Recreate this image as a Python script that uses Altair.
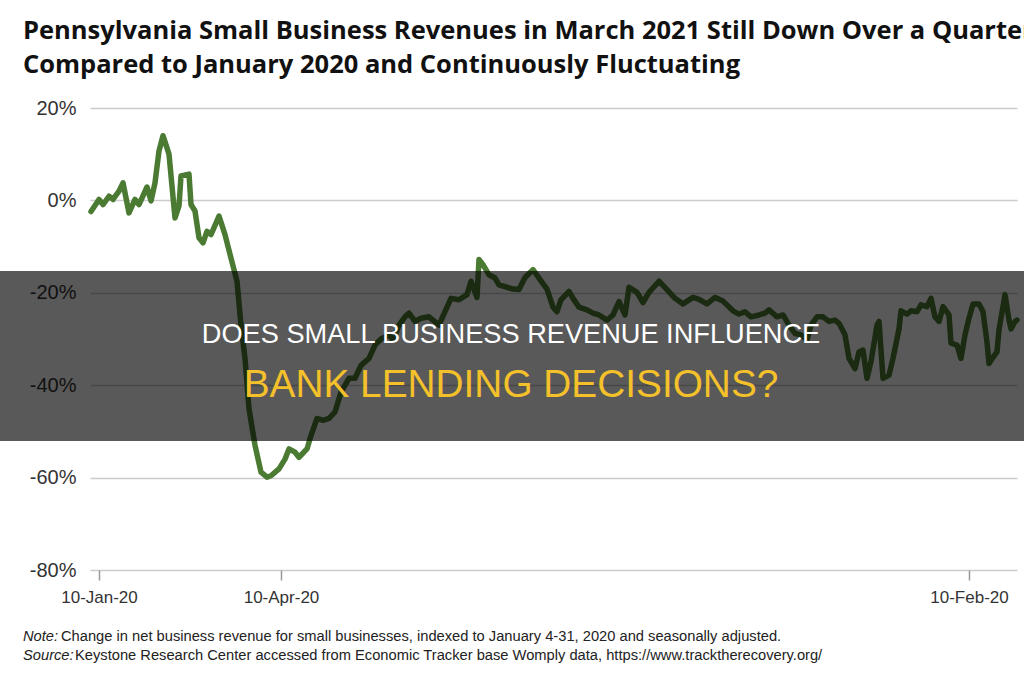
import altair as alt
import pandas as pd

title_lines = [
    "Pennsylvania Small Business Revenues in March 2021 Still Down Over a Quarter",
    "Compared to January 2020 and Continuously Fluctuating",
]
overlay_lines = ["DOES SMALL BUSINESS REVENUE INFLUENCE", "BANK LENDING DECISIONS?"]
note_labels = ["Note:", "Source:"]
note_texts = [
    "Change in net business revenue for small businesses, indexed to January 4-31, 2020 and seasonally adjusted.",
    "Keystone Research Center accessed from Economic Tracker base Womply data, https://www.tracktherecovery.org/",
]

y_ticks = [20, 0, -20, -40, -60, -80]
x_tick_days = [0, 91, 435]
x_tick_labels = ["10-Jan-20", "10-Apr-20", "10-Feb-20"]

# day index (days after 10 Jan 2020 on the chart's axis) and % change in revenue
days = [-4, 0, 2, 5, 7, 10, 12, 15, 18, 20, 24, 26, 28, 30, 32, 35, 38, 40, 41, 45,
        46, 48, 50, 52, 54, 56, 60, 63, 66, 69, 71, 73, 75, 78, 81, 84, 86, 90, 93, 95,
        98, 100, 104, 106, 109, 112, 115, 118, 121, 125, 128, 131, 135, 138, 141, 145, 147, 150, 153, 155,
        158, 161, 165,
        170, 173, 176, 180, 184, 186, 189, 190, 192, 195, 198, 200, 204, 207, 210, 213, 217, 220, 224, 227,
        229, 231, 235, 237, 240, 244, 247, 250, 254, 257, 260, 263, 265, 269, 272, 275, 280, 284, 288, 292,
        297, 300, 304, 308, 312,
        317, 320, 323, 326, 330, 333, 335, 339, 342, 345, 348, 351, 354, 356, 359, 362, 365, 368, 370, 373,
        375, 378, 380, 382, 384, 386, 389, 390, 392, 395, 397, 400, 401, 404, 406, 409, 411, 414, 416, 418,
        420, 422, 425, 426, 429, 431, 433, 435, 437, 440, 442, 444, 445, 447, 449, 450, 453, 455, 456, 458,
        459]
revenue_change = [-2.4, 0.2, -0.9, 0.9, 0.2, 2.0, 3.8, -2.7, 0.2, -0.9, 2.9, -0.1, 3.8, 10.7, 14.0, 10.0, -3.8, -1.2, 5.3, 5.7,
                  -0.9, -2.3, -8.1, -9.2, -6.7, -7.4, -3.4, -7.4, -12.5, -17.5, -27.0, -34.2, -45.1, -53.0, -58.8, -59.9, -59.6, -58.1, -56.0, -53.8,
                  -54.5, -55.6, -53.8, -50.9, -47.2, -47.6, -47.2, -45.8, -41.5, -38.5, -38.5, -35.7, -34.2, -31.3, -30.0, -29.1, -30.2, -27.0, -25.2, -24.4,
                  -26.2, -25.5, -25.2,
                  -27.0, -24.1, -21.2, -21.5, -20.4, -17.5, -21.0, -12.8, -13.9, -16.1, -16.8, -18.3, -18.8, -19.2, -19.3, -16.7, -15.0, -16.8, -19.2, -23.1,
                  -24.1, -21.5, -19.7, -21.2, -23.1, -23.7, -24.4, -24.8, -25.9, -24.8, -21.9, -24.8, -18.8, -19.9, -22.1, -19.9, -17.5, -19.3, -21.2, -22.4,
                  -21.0, -21.4, -22.4, -21.0, -21.8,
                  -23.9, -24.6, -24.1, -25.2, -24.8, -24.4, -23.7, -25.2, -24.8, -27.0, -28.8, -29.1, -30.2, -27.0, -25.2, -25.2, -26.2, -25.9, -26.6, -29.1,
                  -34.2, -36.4, -32.8, -32.4, -38.5, -34.9, -27.0, -26.2, -38.5, -37.8, -34.2, -27.8, -23.9, -24.6, -23.9, -24.1, -22.6, -23.0, -21.2, -25.2,
                  -26.2, -23.0, -24.8, -30.9, -31.3, -34.2, -29.1, -25.5, -22.4, -22.4, -24.1, -30.7, -35.3, -34.0, -32.8, -28.0, -20.4, -25.9, -27.8, -26.2,
                  -25.9]

assert len(days) == len(revenue_change)

PAD_L, PAD_T, PAD_R, PAD_B = 90, 108, 7, 110
W, H = 1024 - PAD_L - PAD_R, 680 - PAD_T - PAD_B

FONT = "Liberation Sans, sans-serif"
df = pd.DataFrame({"day": days, "change": revenue_change})

x_label_expr = " : ".join(
    f"datum.value == {d} ? '{l}'" for d, l in zip(x_tick_days, x_tick_labels)
) + " : ''"

line = alt.Chart(df).mark_line(
    color="#4b7b33", strokeWidth=5.5, strokeJoin="round", strokeCap="round"
).encode(
    x=alt.X("day:Q", scale=alt.Scale(domain=[-4.5, 459], nice=False, zero=False),
            axis=alt.Axis(values=x_tick_days, labelExpr=x_label_expr, grid=False, domain=False,
                          ticks=True, tickSize=10, tickColor="#999999", tickWidth=1.5,
                          labelFont=FONT, labelFontSize=17, labelColor="#333333",
                          labelPadding=9, title=None)),
    y=alt.Y("change:Q", scale=alt.Scale(domain=[-80, 20], nice=False, zero=False),
            axis=alt.Axis(values=y_ticks, labelExpr="datum.value + '%'", grid=True,
                          gridColor="#cccccc", gridWidth=1.5, domain=False, ticks=False,
                          labelPadding=14, labelFont=FONT, labelFontSize=20,
                          labelColor="#333333", title=None)),
)

one = pd.DataFrame({"k": [0]})

band = alt.Chart(one).mark_rect(color="black", opacity=0.65).encode(
    x=alt.value(-PAD_L), x2=alt.value(1024 - PAD_L),
    y=alt.value(271 - PAD_T), y2=alt.value(441 - PAD_T),
)

ov1 = alt.Chart(pd.DataFrame({"t": [overlay_lines[0]]})).mark_text(
    font=FONT, fontSize=27.2, color="#ffffff", align="center", baseline="alphabetic"
).encode(text="t:N", x=alt.value(511 - PAD_L), y=alt.value(343 - PAD_T))

ov2 = alt.Chart(pd.DataFrame({"t": [overlay_lines[1]]})).mark_text(
    font=FONT, fontSize=38.8, color="#f4c12b", align="center", baseline="alphabetic"
).encode(text="t:N", x=alt.value(511 - PAD_L), y=alt.value(397 - PAD_T))

t1 = alt.Chart(pd.DataFrame({"t": [title_lines[0]]})).mark_text(
    font="Open Sans", fontSize=25.5, fontWeight="bold", color="#111111", align="left", baseline="alphabetic"
).encode(text="t:N", x=alt.value(23 - PAD_L), y=alt.value(39 - PAD_T))

t2 = alt.Chart(pd.DataFrame({"t": [title_lines[1]]})).mark_text(
    font="Open Sans", fontSize=25.5, fontWeight="bold", color="#111111", align="left", baseline="alphabetic"
).encode(text="t:N", x=alt.value(23 - PAD_L), y=alt.value(73 - PAD_T))

note_layers = []
for i, (lab, txt) in enumerate(zip(note_labels, note_texts)):
    yb = [641, 660][i]
    lab_w = [38, 52][i]
    note_layers.append(alt.Chart(pd.DataFrame({"t": [lab]})).mark_text(
        font=FONT, fontSize=14.7, fontStyle="italic", color="#222222", align="left", baseline="alphabetic"
    ).encode(text="t:N", x=alt.value(23 - PAD_L), y=alt.value(yb - PAD_T)))
    note_layers.append(alt.Chart(pd.DataFrame({"t": [txt]})).mark_text(
        font=FONT, fontSize=14.7, color="#222222", align="left", baseline="alphabetic"
    ).encode(text="t:N", x=alt.value(23 + lab_w - PAD_L), y=alt.value(yb - PAD_T)))

chart = alt.layer(line, band, ov1, ov2, t1, t2, *note_layers).properties(
    width=W, height=H,
    padding={"left": PAD_L, "top": PAD_T, "right": PAD_R, "bottom": PAD_B},
    autosize=alt.AutoSizeParams(type="none"),
    background="white",
).configure_view(stroke=None)

chart.save("out.html", embed_options={"renderer": "svg", "actions": False})
